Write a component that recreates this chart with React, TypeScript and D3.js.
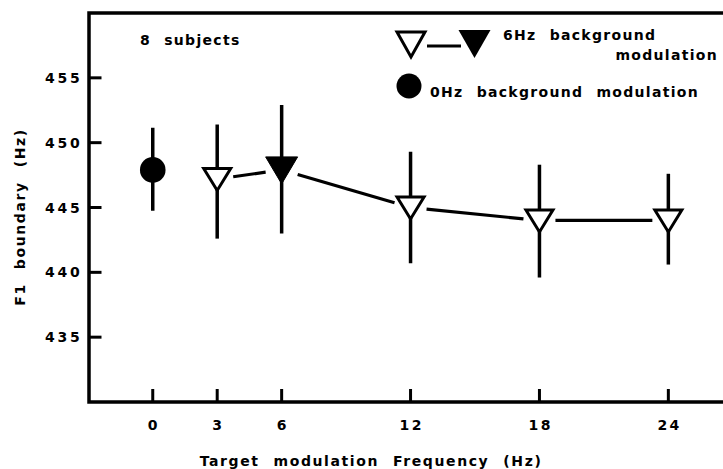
import * as d3 from "d3";
import { useEffect, useRef } from "react";

// 6Hz background modulation (triangles)
const freqs = [3, 6, 12, 18, 24];
const means = [447.2, 447.9, 445.0, 444.0, 444.0];
const upper = [451.4, 452.9, 449.3, 448.3, 447.6];
const lower = [442.6, 443.0, 440.7, 439.6, 440.6];
const filled = [false, true, false, false, false];

// 0Hz background modulation (circle)
const zeroFreq = [0];
const zeroMean = [447.9];
const zeroUpper = [451.15];
const zeroLower = [444.75];

const xTicks = [0, 3, 6, 12, 18, 24];
const yTicks = [435, 440, 445, 450, 455];

const FONT = "'DejaVu Sans', sans-serif";

const App = () => {
  const ref = useRef<SVGSVGElement>(null);

  useEffect(() => {
    const W = 723,
      H = 469;
    const left = 89,
      top = 13,
      bottom = 402;

    const svg = d3.select(ref.current);
    svg.selectAll("*").remove();
    svg.append("rect").attr("width", W).attr("height", H).attr("fill", "#fff");

    const x = d3.scaleLinear().domain([-3, 27]).range([88.3, 732.8]);
    const y = d3.scaleLinear().domain([430, 460]).range([bottom, top]);

    // frame: left axis, bottom axis, top border (right side runs off the page)
    svg
      .append("path")
      .attr("d", `M${W},${top}H${left}V${bottom}H${W}`)
      .attr("fill", "none")
      .attr("stroke", "#000")
      .attr("stroke-width", 3.5);

    // y ticks (inward)
    svg
      .append("g")
      .selectAll("line")
      .data(yTicks)
      .join("line")
      .attr("x1", left)
      .attr("x2", left + 12.5)
      .attr("y1", (d) => y(d))
      .attr("y2", (d) => y(d))
      .attr("stroke", "#000")
      .attr("stroke-width", 3);

    svg
      .append("g")
      .selectAll("text")
      .data(yTicks)
      .join("text")
      .attr("x", 45)
      .attr("y", (d) => y(d) + 5)
      .attr("font-family", FONT)
      .attr("font-weight", "bold")
      .attr("font-size", 14)
      .attr("letter-spacing", 2.8)
      .text((d) => d);

    // x ticks (inward)
    svg
      .append("g")
      .selectAll("line")
      .data(xTicks)
      .join("line")
      .attr("x1", (d) => x(d))
      .attr("x2", (d) => x(d))
      .attr("y1", bottom)
      .attr("y2", bottom - 13)
      .attr("stroke", "#000")
      .attr("stroke-width", 3);

    svg
      .append("g")
      .selectAll("text")
      .data(xTicks)
      .join("text")
      .attr("x", (d) => x(d) + 1.2)
      .attr("y", 429.5)
      .attr("text-anchor", "middle")
      .attr("font-family", FONT)
      .attr("font-weight", "bold")
      .attr("font-size", 14)
      .attr("letter-spacing", 2.4)
      .text((d) => d);

    // axis titles
    svg
      .append("text")
      .attr("x", 371)
      .attr("y", 466)
      .attr("text-anchor", "middle")
      .attr("font-family", FONT)
      .attr("font-weight", "bold")
      .attr("font-size", 14)
      .attr("letter-spacing", 1.6)
      .attr("word-spacing", 7.5)
      .text("Target modulation Frequency (Hz)");

    svg
      .append("text")
      .attr("transform", "translate(25,217) rotate(-90)")
      .attr("text-anchor", "middle")
      .attr("font-family", FONT)
      .attr("font-weight", "bold")
      .attr("font-size", 14)
      .attr("letter-spacing", 1.6)
      .attr("word-spacing", 7.5)
      .text("F1 boundary (Hz)");

    const label = (tx: number, ty: number, s: string, anchor = "start") =>
      svg
        .append("text")
        .attr("x", tx)
        .attr("y", ty)
        .attr("text-anchor", anchor)
        .attr("font-family", FONT)
        .attr("font-weight", "bold")
        .attr("font-size", 14)
        .attr("letter-spacing", 1.3)
        .attr("word-spacing", 7)
        .text(s);

    label(140, 45, "8 subjects");

    const tri = (cx: number, cy: number, hw: number, up: number, down: number) =>
      `M${cx - hw},${cy - up}L${cx + hw},${cy - up}L${cx},${cy + down}Z`;

    // connecting line, with gaps at the markers
    const gap = 16;
    const pts = freqs.map((f, i) => [x(f), y(means[i])]);
    const segs = d3.pairs(pts).map(([a, b]) => {
      const dx = b[0] - a[0],
        dy = b[1] - a[1];
      const t = gap / dx;
      return [a[0] + dx * t, a[1] + dy * t, b[0] - dx * t, b[1] - dy * t];
    });
    svg
      .append("g")
      .selectAll("line")
      .data(segs)
      .join("line")
      .attr("x1", (d) => d[0])
      .attr("y1", (d) => d[1])
      .attr("x2", (d) => d[2])
      .attr("y2", (d) => d[3])
      .attr("stroke", "#000")
      .attr("stroke-width", 3.2);

    // error bars
    const bars = svg.append("g");
    bars
      .selectAll("line.tri")
      .data(freqs)
      .join("line")
      .attr("x1", (d) => x(d))
      .attr("x2", (d) => x(d))
      .attr("y1", (_, i) => y(upper[i]))
      .attr("y2", (_, i) => y(lower[i]))
      .attr("stroke", "#000")
      .attr("stroke-width", 3.5);
    bars
      .selectAll("line.circ")
      .data(zeroFreq)
      .enter()
      .append("line")
      .attr("x1", (d) => x(d))
      .attr("x2", (d) => x(d))
      .attr("y1", (_, i) => y(zeroUpper[i]))
      .attr("y2", (_, i) => y(zeroLower[i]))
      .attr("stroke", "#000")
      .attr("stroke-width", 3.5);

    // markers
    svg
      .append("g")
      .selectAll("path")
      .data(freqs)
      .join("path")
      .attr("d", (d, i) =>
        filled[i]
          ? tri(x(d), y(means[i]), 16, 13, 14)
          : tri(x(d), y(means[i]), 13.5, 10.5, 11.5)
      )
      .attr("fill", (_, i) => (filled[i] ? "#000" : "#fff"))
      .attr("stroke", "#000")
      .attr("stroke-width", (_, i) => (filled[i] ? 1 : 3))
      .attr("stroke-linejoin", "miter");

    svg
      .append("g")
      .selectAll("circle")
      .data(zeroFreq)
      .join("circle")
      .attr("cx", (d) => x(d))
      .attr("cy", (_, i) => y(zeroMean[i]))
      .attr("r", 12.8)
      .attr("fill", "#000");

    // legend
    const lg = svg.append("g");
    lg.append("line")
      .attr("x1", 427)
      .attr("x2", 461)
      .attr("y1", 46)
      .attr("y2", 46)
      .attr("stroke", "#000")
      .attr("stroke-width", 3.2);
    lg.append("path")
      .attr("d", tri(411, 44, 14, 12, 13))
      .attr("fill", "#fff")
      .attr("stroke", "#000")
      .attr("stroke-width", 3);
    lg.append("path")
      .attr("d", tri(474.5, 44, 16, 14, 14))
      .attr("fill", "#000");
    lg.append("circle").attr("cx", 409).attr("cy", 86).attr("r", 12.5).attr("fill", "#000");

    label(503, 40, "6Hz background");
    label(718, 60, "modulation", "end");
    label(430, 97, "0Hz background modulation");
  }, []);

  return (
    <svg
      ref={ref}
      width={723}
      height={469}
      style={{ position: "absolute", left: 0, top: 0 }}
    />
  );
};

export default App;
